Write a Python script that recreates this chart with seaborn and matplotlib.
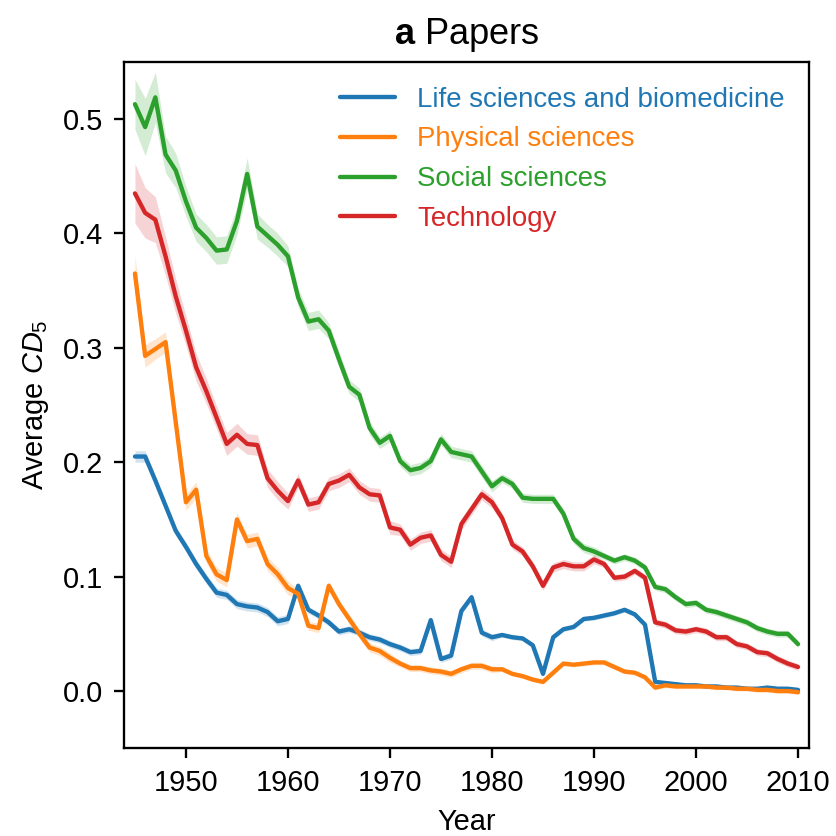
import numpy as np
import pandas as pd
import matplotlib
matplotlib.use("Agg")
import matplotlib.pyplot as plt
import seaborn as sns

# years 1945..2010
years = list(range(1945, 2011))

fields = ["Life sciences and biomedicine", "Physical sciences",
          "Social sciences", "Technology"]

# average CD5 per year
life = [0.205, 0.205, 0.184, 0.162, 0.140, 0.126, 0.111, 0.098, 0.086, 0.084,
        0.076, 0.074, 0.073, 0.069, 0.061, 0.063, 0.092, 0.071, 0.066, 0.060,
        0.052, 0.054, 0.051, 0.047, 0.045, 0.041, 0.038, 0.034, 0.035, 0.062,
        0.028, 0.031, 0.070, 0.082, 0.051, 0.047, 0.049, 0.047, 0.046, 0.040,
        0.015, 0.047, 0.054, 0.056, 0.063, 0.064, 0.066, 0.068, 0.071, 0.067,
        0.058, 0.008, 0.007, 0.006, 0.005, 0.005, 0.004, 0.004, 0.003, 0.003,
        0.002, 0.002, 0.003, 0.002, 0.002, 0.001]
physical = [0.365, 0.293, 0.299, 0.305, 0.235, 0.165, 0.176, 0.118, 0.102, 0.097,
            0.150, 0.131, 0.133, 0.111, 0.102, 0.090, 0.085, 0.057, 0.055, 0.092,
            0.076, 0.063, 0.050, 0.038, 0.035, 0.029, 0.024, 0.020, 0.020, 0.018,
            0.017, 0.015, 0.019, 0.022, 0.022, 0.019, 0.019, 0.015, 0.013, 0.010,
            0.008, 0.016, 0.024, 0.023, 0.024, 0.025, 0.025, 0.021, 0.017, 0.016,
            0.012, 0.003, 0.005, 0.004, 0.004, 0.004, 0.004, 0.003, 0.003, 0.002,
            0.002, 0.001, 0.001, 0.000, 0.000, -0.001]
social = [0.513, 0.493, 0.519, 0.469, 0.455, 0.428, 0.405, 0.396, 0.385, 0.386,
          0.411, 0.452, 0.406, 0.398, 0.390, 0.380, 0.344, 0.323, 0.325, 0.315,
          0.290, 0.266, 0.259, 0.230, 0.217, 0.223, 0.201, 0.193, 0.195, 0.201,
          0.220, 0.209, 0.207, 0.205, 0.192, 0.179, 0.186, 0.181, 0.169, 0.168,
          0.168, 0.168, 0.155, 0.133, 0.125, 0.122, 0.118, 0.114, 0.117, 0.114,
          0.108, 0.091, 0.089, 0.082, 0.076, 0.077, 0.071, 0.069, 0.066, 0.063,
          0.060, 0.055, 0.052, 0.050, 0.050, 0.041]
technology = [0.435, 0.418, 0.412, 0.380, 0.345, 0.315, 0.283, 0.262, 0.239, 0.216,
              0.224, 0.216, 0.215, 0.186, 0.175, 0.166, 0.184, 0.163, 0.165, 0.181,
              0.184, 0.189, 0.178, 0.172, 0.171, 0.143, 0.141, 0.128, 0.134, 0.136,
              0.119, 0.113, 0.146, 0.159, 0.172, 0.165, 0.151, 0.128, 0.122, 0.109,
              0.092, 0.108, 0.111, 0.109, 0.109, 0.115, 0.111, 0.099, 0.100, 0.105,
              0.099, 0.060, 0.058, 0.053, 0.052, 0.054, 0.052, 0.047, 0.047, 0.041,
              0.039, 0.034, 0.033, 0.028, 0.024, 0.021]

# half width of the shaded band
life_ci = [0.005, 0.005, 0.004, 0.004, 0.004, 0.004, 0.004, 0.004, 0.004, 0.004,
           0.004, 0.004, 0.004, 0.004, 0.004, 0.004, 0.003, 0.003, 0.003, 0.003,
           0.003, 0.003, 0.003, 0.003, 0.003, 0.003, 0.003, 0.003, 0.003, 0.003,
           0.003, 0.003, 0.003, 0.003, 0.003, 0.003, 0.002, 0.002, 0.002, 0.002,
           0.002, 0.002, 0.002, 0.002, 0.002, 0.002, 0.002, 0.002, 0.002, 0.002,
           0.002, 0.001, 0.001, 0.001, 0.001, 0.001, 0.001, 0.001, 0.001, 0.001,
           0.001, 0.001, 0.001, 0.001, 0.001, 0.001]
physical_ci = [0.016, 0.010, 0.009, 0.009, 0.008, 0.007, 0.007, 0.006, 0.006, 0.006,
               0.006, 0.006, 0.006, 0.006, 0.006, 0.006, 0.004, 0.004, 0.004, 0.004,
               0.004, 0.004, 0.004, 0.004, 0.004, 0.004, 0.003, 0.003, 0.003, 0.003,
               0.003, 0.003, 0.003, 0.003, 0.003, 0.003, 0.002, 0.002, 0.002, 0.002,
               0.002, 0.002, 0.002, 0.002, 0.002, 0.002, 0.002, 0.002, 0.002, 0.002,
               0.002, 0.002, 0.002, 0.002, 0.002, 0.002, 0.002, 0.002, 0.002, 0.002,
               0.002, 0.002, 0.002, 0.002, 0.002, 0.002]
social_ci = [0.022, 0.025, 0.022, 0.016, 0.015, 0.013, 0.012, 0.012, 0.012, 0.012,
             0.012, 0.014, 0.011, 0.010, 0.010, 0.009, 0.008, 0.008, 0.008, 0.007,
             0.007, 0.006, 0.006, 0.006, 0.005, 0.005, 0.005, 0.005, 0.005, 0.005,
             0.005, 0.005, 0.005, 0.005, 0.005, 0.005, 0.004, 0.004, 0.004, 0.004,
             0.004, 0.004, 0.004, 0.004, 0.004, 0.004, 0.003, 0.003, 0.003, 0.003,
             0.003, 0.003, 0.003, 0.003, 0.003, 0.003, 0.003, 0.003, 0.003, 0.003,
             0.003, 0.003, 0.003, 0.003, 0.003, 0.003]
technology_ci = [0.026, 0.022, 0.020, 0.017, 0.015, 0.013, 0.012, 0.011, 0.010, 0.010,
                 0.010, 0.009, 0.009, 0.008, 0.008, 0.007, 0.006, 0.006, 0.006, 0.006,
                 0.006, 0.006, 0.006, 0.006, 0.006, 0.006, 0.005, 0.005, 0.005, 0.005,
                 0.005, 0.005, 0.005, 0.005, 0.005, 0.005, 0.004, 0.004, 0.004, 0.004,
                 0.004, 0.004, 0.004, 0.004, 0.004, 0.004, 0.003, 0.003, 0.003, 0.003,
                 0.003, 0.003, 0.003, 0.003, 0.003, 0.003, 0.003, 0.003, 0.003, 0.003,
                 0.003, 0.003, 0.003, 0.003, 0.003, 0.003]

means = [life, physical, social, technology]
cis = [life_ci, physical_ci, social_ci, technology_ci]

frames = []
for name, m, c in zip(fields, means, cis):
    frames.append(pd.DataFrame({"Year": years, "CD5": m, "ci": c, "Field": name}))
df = pd.concat(frames, ignore_index=True)

sns.set_style("ticks")
plt.rcParams["font.family"] = ["Liberation Sans", "DejaVu Sans"]
plt.rcParams["mathtext.fontset"] = "custom"
plt.rcParams["mathtext.rm"] = "Liberation Sans"
plt.rcParams["mathtext.it"] = "Liberation Sans:italic"
plt.rcParams["mathtext.bf"] = "Liberation Sans:bold"
plt.rcParams["axes.edgecolor"] = "black"
plt.rcParams["text.color"] = "black"
plt.rcParams["axes.labelcolor"] = "black"
plt.rcParams["xtick.color"] = "black"
plt.rcParams["ytick.color"] = "black"

palette = sns.color_palette("tab10", 4)

fig, ax = plt.subplots(figsize=(4, 4), dpi=209)
fig.subplots_adjust(left=0.148, right=0.968, top=0.926, bottom=0.105)

sns.lineplot(data=df, x="Year", y="CD5", hue="Field", palette=palette,
             errorbar=None, linewidth=1.5, ax=ax)

# shaded confidence bands
for (name, sub), col in zip(df.groupby("Field", sort=False), palette):
    ax.fill_between(sub["Year"], sub["CD5"] - sub["ci"], sub["CD5"] + sub["ci"],
                    color=col, alpha=0.2, linewidth=0)

ax.set_xlim(1943.9, 2011.1)
ax.set_ylim(-0.05, 0.55)
ax.set_xticks([1950, 1960, 1970, 1980, 1990, 2000, 2010])
ax.set_yticks([0.0, 0.1, 0.2, 0.3, 0.4, 0.5])
ax.tick_params(labelsize=10)
for s in ax.spines.values():
    s.set_visible(True)
    s.set_linewidth(0.8)

ax.set_xlabel("Year", fontsize=10)
ax.set_ylabel(r"Average $CD_5$", fontsize=10)
ax.set_title(r"$\mathbf{a}$ Papers", fontsize=12.5)

leg = ax.legend(loc="upper right", frameon=False, fontsize=9.5,
                labelcolor="linecolor", labelspacing=0.5)

fig.savefig("out.png", dpi=209)
